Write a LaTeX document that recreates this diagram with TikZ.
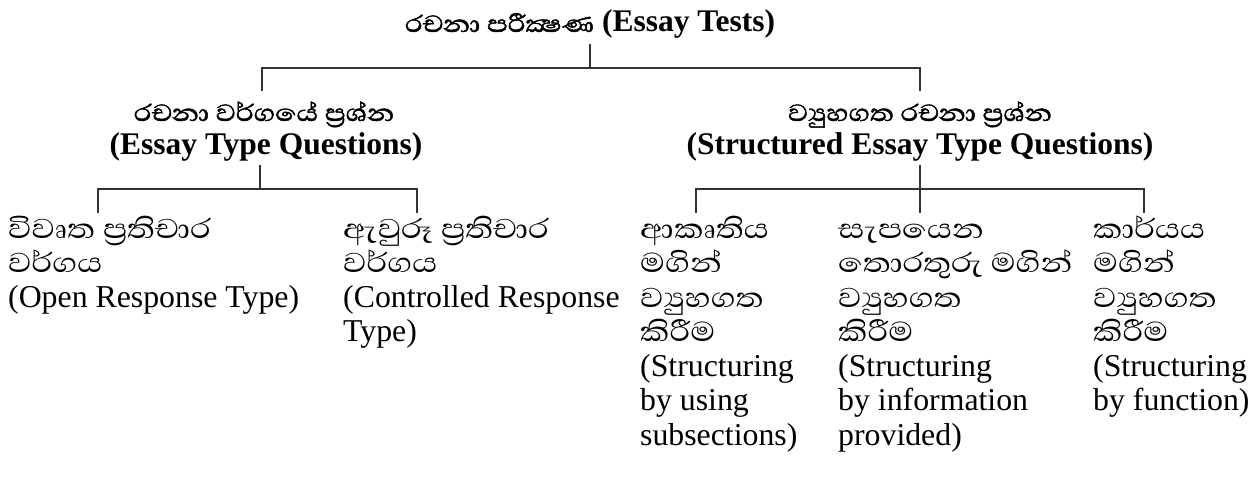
\documentclass[tikz,border=0pt]{standalone}
\usepackage{fontspec}
\setmainfont{Liberation Serif}
\newfontfamily\sinfont[Script=Sinhala,Scale=1.1,FakeStretch=1.18]{Abhaya Libre}
\newfontfamily\sinhfont[Script=Sinhala,Scale=1.1,FakeStretch=1.18,FakeBold=1.6]{Abhaya Libre}
\newcommand\hsin[1]{{\sinhfont\mdseries\fontsize{27.3}{30}\selectfont #1}}
\newcommand\lsin[1]{{\sinfont #1}}
\tikzset{
  conn/.style={line width=2pt, draw=black!80},
  head/.style={inner sep=0pt, anchor=base, font=\bfseries\fontsize{31.5}{34}\selectfont},
  leaf/.style={inner sep=0pt, anchor=base west, font=\fontsize{31.8}{34.5}\selectfont}
}
\begin{document}
\begin{tikzpicture}[x=1pt,y=-1pt]
\useasboundingbox (0,0) rectangle (1258,481);
% title and headings
\node[head] (title) at (590,32) {\hsin{රචනා පරීක්^^^^200dෂණ} (Essay Tests)};
\node[head] (essay-si) at (264,121) {\hsin{රචනා වර්ගයේ ප්^^^^200dරශ්න}};
\node[head] (essay-en) at (266,155) {(Essay Type Questions)};
\node[head] (struct-si) at (920,121) {\hsin{ව්^^^^200dයුහගත රචනා ප්^^^^200dරශ්න}};
\node[head] (struct-en) at (920,155) {(Structured Essay Type Questions)};
% left leaves
\node[leaf] (open-1) at (8,238)   {\lsin{විවෘත ප්^^^^200dරතිචාර}};
\node[leaf] (open-2) at (8,272.5) {\lsin{වර්ගය}};
\node[leaf] (open-3) at (8,307)   {(Open Response Type)};
\node[leaf] (ctrl-1) at (343,238)   {\lsin{ඇවුරූ ප්^^^^200dරතිචාර}};
\node[leaf] (ctrl-2) at (343,272.5) {\lsin{වර්ගය}};
\node[leaf] (ctrl-3) at (343,307)   {(Controlled Response};
\node[leaf] (ctrl-4) at (343,341.5) {Type)};
% right leaves
\node[leaf] (sub-1) at (640,238)   {\lsin{ආකෘතිය}};
\node[leaf] (sub-2) at (640,272.5) {\lsin{මගින්}};
\node[leaf] (sub-3) at (640,307)   {\lsin{ව්^^^^200dයුහගත}};
\node[leaf] (sub-4) at (640,341.5) {\lsin{කිරීම}};
\node[leaf] (sub-5) at (640,376)   {(Structuring};
\node[leaf] (sub-6) at (640,410.5) {by using};
\node[leaf] (sub-7) at (640,445)   {subsections)};
\node[leaf] (info-1) at (838,238)   {\lsin{සැපයෙන}};
\node[leaf] (info-2) at (838,272.5) {\lsin{තොරතුරු මගින්}};
\node[leaf] (info-3) at (838,307)   {\lsin{ව්^^^^200dයුහගත}};
\node[leaf] (info-4) at (838,341.5) {\lsin{කිරීම}};
\node[leaf] (info-5) at (838,376)   {(Structuring};
\node[leaf] (info-6) at (838,410.5) {by information};
\node[leaf] (info-7) at (838,445)   {provided)};
\node[leaf] (func-1) at (1093,238)   {\lsin{කාර්යය}};
\node[leaf] (func-2) at (1093,272.5) {\lsin{මගින්}};
\node[leaf] (func-3) at (1093,307)   {\lsin{ව්^^^^200dයුහගත}};
\node[leaf] (func-4) at (1093,341.5) {\lsin{කිරීම}};
\node[leaf] (func-5) at (1093,376)   {(Structuring};
\node[leaf] (func-6) at (1093,410.5) {by function)};
% junction coordinates
\coordinate (a0) at (590,44);  \coordinate (a1) at (590,68);
\coordinate (aL) at (262,68);  \coordinate (aLd) at (262,91);
\coordinate (aR) at (920,68);  \coordinate (aRd) at (920,91);
\coordinate (b0) at (260,165); \coordinate (b1) at (260,189);
\coordinate (bL) at (98,189);  \coordinate (bLd) at (98,213);
\coordinate (bR) at (417,189); \coordinate (bRd) at (417,213);
\coordinate (c0) at (920,165); \coordinate (cM) at (920,213);
\coordinate (cL) at (696,189); \coordinate (cLd) at (696,213);
\coordinate (cR) at (1144,189); \coordinate (cRd) at (1144,213);
% connectors
\draw[conn] (a0) -- (a1);
\draw[conn] (aLd) -- (aL) -- (aR) -- (aRd);
\draw[conn] (b0) -- (b1);
\draw[conn] (bLd) -- (bL) -- (bR) -- (bRd);
\draw[conn] (c0) -- (cM);
\draw[conn] (cLd) -- (cL) -- (cR) -- (cRd);
\end{tikzpicture}
\end{document}
